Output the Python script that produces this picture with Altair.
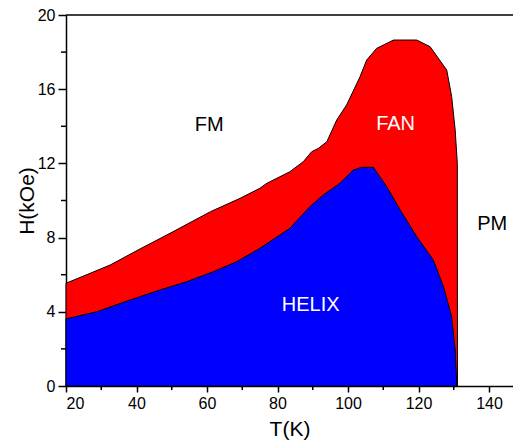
import altair as alt
import pandas as pd

# FM / FAN boundary (upper edge of the red region), T in K, H in kOe
fan_T = [20, 25, 32.5, 41, 49.5, 61, 69.4, 75, 77, 83.5, 87.3, 89.7, 91.6, 94,
         96.8, 99.6, 103.4, 105.3, 108.1, 112.9, 119.5, 123.3, 128.0, 129.4,
         130.4, 131.0, 131.05]
fan_H = [5.54, 5.93, 6.52, 7.39, 8.23, 9.40, 10.12, 10.66, 10.93, 11.55, 12.09,
         12.63, 12.81, 13.17, 14.34, 15.15, 16.67, 17.57, 18.2, 18.65, 18.65,
         18.29, 17.03, 15.6, 13.8, 12.0, 0.0]

# HELIX / FAN boundary (upper edge of the blue region)
helix_T = [20, 28.7, 38.2, 46.7, 54.2, 61.8, 68.4, 75, 83.5, 89.2, 93, 97.7,
           101.5, 103.9, 107.2, 111, 114.8, 119.5, 124.2, 127.1, 129.4, 130.4,
           130.85]
helix_H = [3.62, 4.0, 4.64, 5.18, 5.62, 6.16, 6.70, 7.42, 8.5, 9.67, 10.3,
           10.93, 11.64, 11.79, 11.79, 10.74, 9.49, 8.05, 6.79, 5.35, 3.74,
           1.94, 0.0]

# Region labels
label_text = ["FM", "FAN", "HELIX", "PM"]
label_T = [60.6, 113.5, 89.4, 140.9]
label_H = [14.07, 14.1, 4.34, 8.73]
label_color = ["black", "white", "white", "black"]

x_major = [20, 40, 60, 80, 100, 120, 140]
x_minor = [30, 50, 70, 90, 110, 130]
y_major = [0, 4, 8, 12, 16, 20]
y_minor = [2, 6, 10, 14, 18]

W, H = 447, 371
FONT = "Liberation Sans"

xs = alt.Scale(domain=[20, 146.8], nice=False, zero=False)
ys = alt.Scale(domain=[0, 20], nice=False)

fan_df = pd.DataFrame({"T": fan_T, "H": fan_H})
helix_df = pd.DataFrame({"T": helix_T, "H": helix_H})
lab_df = pd.DataFrame({"T": label_T, "H": label_H, "t": label_text, "c": label_color})

xaxis = alt.Axis(values=x_major, title="T(K)", tickSize=6, labelPadding=3,
                 titlePadding=7, grid=False)
yaxis = alt.Axis(values=y_major, title="H(kOe)", tickSize=8, labelPadding=3,
                 titlePadding=0, grid=False)

red = alt.Chart(fan_df).mark_area(fill="#FF0000", stroke="black", strokeWidth=1,
                                  opacity=1).encode(
    x=alt.X("T:Q", scale=xs, axis=xaxis),
    y=alt.Y("H:Q", scale=ys, axis=yaxis, stack=None),
)

blue = alt.Chart(helix_df).mark_area(fill="#0000FF", stroke="black", strokeWidth=1,
                                     opacity=1).encode(
    x=alt.X("T:Q", scale=xs),
    y=alt.Y("H:Q", scale=ys, stack=None),
)

labels = alt.Chart(lab_df).mark_text(font=FONT, fontSize=20, align="center",
                                     baseline="middle").encode(
    x=alt.X("T:Q", scale=xs),
    y=alt.Y("H:Q", scale=ys),
    text="t:N",
    color=alt.Color("c:N", scale=None),
)

xminor = alt.Chart(pd.DataFrame({"T": x_minor})).mark_rule(
    color="black", strokeWidth=1.5).encode(
    x=alt.X("T:Q", scale=xs),
    y=alt.value(H), y2=alt.value(H + 4),
)

yminor = alt.Chart(pd.DataFrame({"H": y_minor})).mark_rule(
    color="black", strokeWidth=1.5).encode(
    y=alt.Y("H:Q", scale=ys),
    x=alt.value(0), x2=alt.value(-5),
)

top = alt.Chart(pd.DataFrame({"a": [0]})).mark_rule(
    color="black", strokeWidth=1.5).encode(
    x=alt.value(0), x2=alt.value(W), y=alt.value(0),
)

chart = alt.layer(red, blue, labels, xminor, yminor, top).properties(
    width=W, height=H,
    autosize=alt.AutoSizeParams(type="none"),
    padding={"left": 58, "top": 7, "right": 0, "bottom": 56},
).configure_view(stroke=None).configure_axis(
    domainColor="black", domainWidth=1.5, tickColor="black", tickWidth=1.5,
    labelFont=FONT, labelFontSize=16, labelColor="black",
    titleFont=FONT, titleFontSize=21, titleFontWeight="normal", titleColor="black",
)

chart.save("out.html", embed_options={"renderer": "svg", "actions": False})
